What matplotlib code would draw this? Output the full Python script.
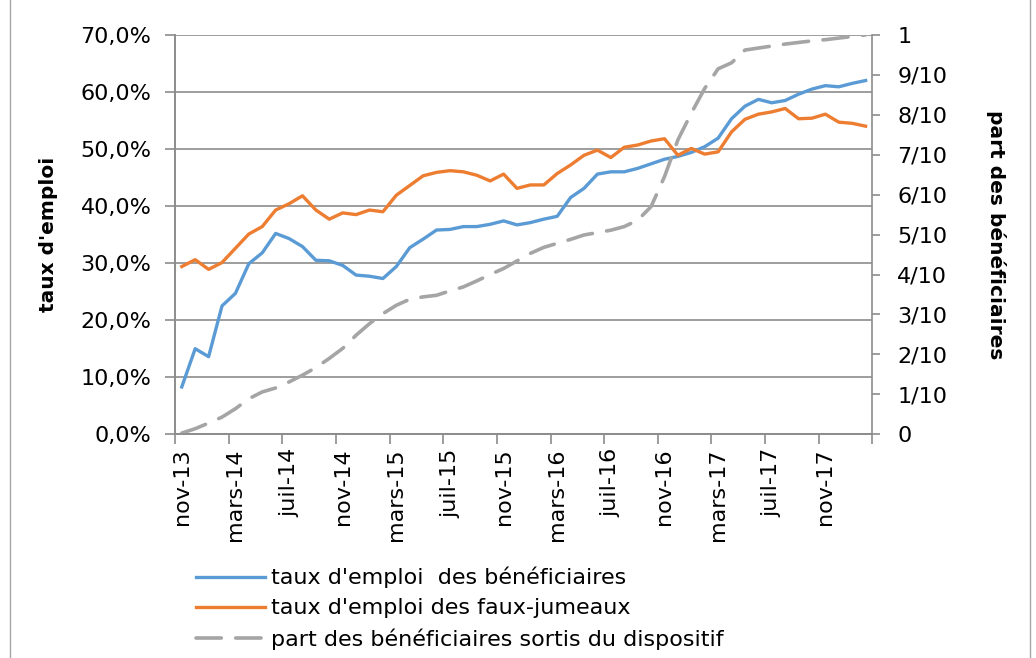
import matplotlib.pyplot as plt
from matplotlib.patches import Rectangle
from matplotlib.ticker import FixedLocator, FuncFormatter
import numpy as np

plt.rcParams['font.family'] = ['DejaVu Sans']

# Monthly series, nov-13 .. feb-18 (52 months)
benef = [8.3, 15.0, 13.6, 22.5, 24.7, 29.9, 31.8, 35.2, 34.3, 32.9,
         30.5, 30.4, 29.6, 27.9, 27.7, 27.3, 29.4, 32.7, 34.2, 35.8,
         35.9, 36.4, 36.4, 36.8, 37.4, 36.7, 37.1, 37.7, 38.2, 41.5,
         43.1, 45.6, 46.0, 46.0, 46.6, 47.4, 48.2, 48.7, 49.4, 50.4,
         51.9, 55.3, 57.5, 58.7, 58.1, 58.5, 59.6, 60.5, 61.1, 60.9,
         61.5, 62.0]
jumeaux = [29.4, 30.6, 28.9, 30.1, 32.6, 35.1, 36.4, 39.3, 40.4, 41.8,
           39.3, 37.7, 38.8, 38.5, 39.3, 39.0, 41.9, 43.6, 45.3, 45.9,
           46.2, 46.0, 45.4, 44.4, 45.6, 43.1, 43.7, 43.7, 45.7, 47.2,
           48.9, 49.8, 48.5, 50.3, 50.7, 51.4, 51.8, 48.9, 50.1, 49.1,
           49.5, 53.0, 55.2, 56.1, 56.5, 57.1, 55.3, 55.4, 56.1, 54.7,
           54.5, 54.0]
sortis = [0.003, 0.014, 0.028, 0.043, 0.064, 0.089, 0.106, 0.116, 0.131, 0.148,
          0.167, 0.19, 0.215, 0.248, 0.277, 0.302, 0.323, 0.338, 0.344, 0.348,
          0.359, 0.369, 0.384, 0.40, 0.415, 0.434, 0.453, 0.468, 0.478, 0.488,
          0.499, 0.505, 0.511, 0.52, 0.536, 0.57, 0.645, 0.737, 0.804, 0.866,
          0.915, 0.93, 0.962, 0.967, 0.972, 0.977, 0.981, 0.985, 0.988, 0.992,
          0.996, 1.0]

tick_labels = ['nov-13', 'mars-14', 'juil-14', 'nov-14', 'mars-15', 'juil-15',
               'nov-15', 'mars-16', 'juil-16', 'nov-16', 'mars-17', 'juil-17',
               'nov-17']
right_labels = ['0', '1/10', '2/10', '3/10', '4/10', '5/10', '6/10', '7/10',
                '8/10', '9/10', '1']

x = np.arange(len(benef))
grey = '#8c8c8c'
fs = 16

fig = plt.figure(figsize=(10.36, 6.58), dpi=100)
ax = fig.add_axes([0.169, 0.340, 0.673, 0.607])
ax2 = ax.twinx()

l1, = ax.plot(x, np.array(benef) / 100, color='#5B9BD5', lw=2.4,
              solid_joinstyle='round', label="taux d'emploi  des bénéficiaires")
l2, = ax.plot(x, np.array(jumeaux) / 100, color='#ED7D31', lw=2.4,
              solid_joinstyle='round', label="taux d'emploi des faux-jumeaux")
l3, = ax2.plot(x, sortis, color='#A5A5A5', lw=2.6, ls=(0, (7, 4)),
               dash_capstyle='round',
               label='part des bénéficiaires sortis du dispositif')

ax.set_xlim(-0.5, len(x) - 0.5)
ax.set_ylim(0, 0.7)
ax2.set_ylim(0, 1)

ax.set_yticks(np.arange(0, 0.71, 0.1))
ax.yaxis.set_major_formatter(FuncFormatter(lambda v, p: f'{v*100:.1f}%'.replace('.', ',')))
ax.yaxis.grid(True, color=grey, lw=1.2)
ax.set_axisbelow(True)

ax.xaxis.set_major_locator(FixedLocator(np.arange(0, len(x), 4)))
ax.set_xticklabels(tick_labels, rotation=90)
ax.xaxis.set_minor_locator(FixedLocator(np.arange(-0.5, len(x), 4)))
ax.tick_params(axis='x', which='major', length=0, pad=10, labelsize=fs)
ax.tick_params(axis='x', which='minor', length=7, width=1.2, color=grey)
ax.tick_params(axis='y', length=7, width=1.2, color=grey, labelsize=fs, pad=10)

ax2.set_yticks(np.linspace(0, 1, 11))
ax2.set_yticklabels(right_labels)
ax2.tick_params(axis='y', length=6, width=1.2, color=grey, labelsize=fs, pad=12)

for a in (ax, ax2):
    for s in a.spines.values():
        s.set_color(grey)
        s.set_linewidth(1.2)
    a.spines['top'].set_visible(False)
ax.spines['right'].set_visible(False)

ax.set_ylabel("taux d'emploi", fontsize=14.5, fontweight='bold', va='center')
ax.yaxis.set_label_coords(-0.182, 0.5)
ax2.set_ylabel('part des bénéficiaires', fontsize=14.5, fontweight='bold',
               rotation=270, va='center')
ax2.yaxis.set_label_coords(1.178, 0.5)

fig.legend(handles=[l1, l2, l3], loc='upper left', bbox_to_anchor=(0.181, 0.152),
           frameon=False, fontsize=fs, handlelength=3.1, handletextpad=0.25,
           labelspacing=0.45, borderaxespad=0)

fig.patches.append(Rectangle((10 / 1036, -0.02), 1020 / 1036, 1.05, fill=False,
                             edgecolor='#a6a6a6', lw=1, transform=fig.transFigure))

fig.savefig('out.png', dpi=100)
